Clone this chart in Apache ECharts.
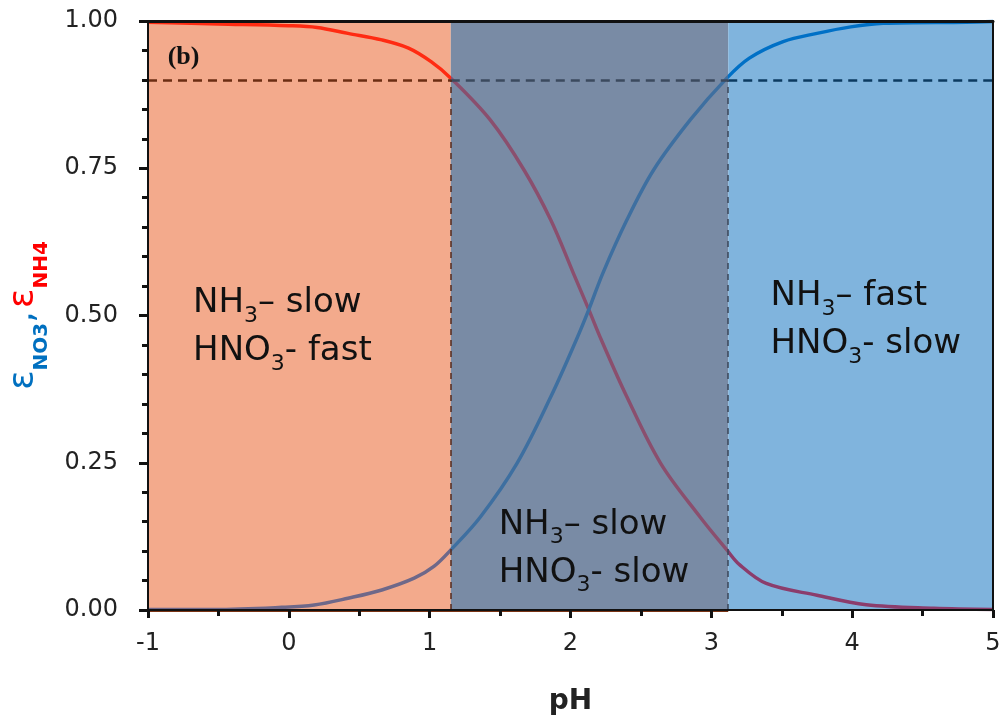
<!DOCTYPE html>
<html>
<head>
<meta charset="utf-8">
<script src="https://cdn.jsdelivr.net/npm/echarts@6/dist/echarts.min.js"></script>
<style>
html, body { margin: 0; padding: 0; background: #fff; }
#chart { width: 1006px; height: 723px; }
</style>
</head>
<body>
<div id="chart"></div>
<script>
// NH4 曲线 (红)
const phNH4 = [-1, -0.5, 0, 0.2, 0.42, 0.66, 0.85, 1.01, 1.15, 1.43, 1.67, 1.86, 2.02, 2.13, 2.22, 2.4, 2.64, 2.92, 3.11, 3.2, 3.39, 3.75, 4.1, 4.58, 5];
const epsNH4 = [0.998, 0.995, 0.992, 0.989, 0.979, 0.968, 0.954, 0.931, 0.903, 0.832, 0.747, 0.662, 0.572, 0.51, 0.458, 0.362, 0.249, 0.158, 0.102, 0.077, 0.045, 0.025, 0.009, 0.003, 0.001];
// NO3 曲线 (蓝)
const phNO3 = [-1, -0.53, -0.05, 0.18, 0.42, 0.66, 0.89, 1.03, 1.15, 1.36, 1.62, 1.86, 2.04, 2.13, 2.23, 2.4, 2.59, 2.85, 3.11, 3.27, 3.51, 3.75, 3.99, 4.22, 4.81, 5];
const epsNO3 = [0.001, 0.001, 0.0045, 0.0085, 0.02, 0.034, 0.054, 0.074, 0.102, 0.158, 0.249, 0.362, 0.458, 0.51, 0.572, 0.662, 0.747, 0.832, 0.903, 0.937, 0.965, 0.979, 0.99, 0.996, 0.998, 0.999];
// 区域分界 和 0.9 阈值
const regionBounds = [-1, 1.15, 3.12, 5];
const threshold = 0.9;
// 区域文字
const regionText = [
    ['NH', '3', '– slow', 'HNO', '3', '- fast'],
    ['NH', '3', '– slow', 'HNO', '3', '- slow'],
    ['NH', '3', '– fast', 'HNO', '3', '- slow']
];
const panelTag = '(b)';

const regionColors = ['#f3aa8c', '#798ba5', '#80b4dd'];
const redColors = ['#ff2b12', '#8a4f6e', '#8b3d6c'];
const blueColors = ['#6e6889', '#3e6fa0', '#0070c6'];
const dashColors = ['#6b2d12', '#3b4a5e', '#0b3a60'];

const FONT = 'DejaVu Sans';

function pieces(colors) {
    return colors.map((c, i) => ({gte: regionBounds[i], lt: regionBounds[i + 1] + (i === 2 ? 1 : 0), color: c}));
}

function labelText(t) {
    return '{t|' + t[0] + '}{s|' + t[1] + '}{t|' + t[2] + '}\n{t|' + t[3] + '}{s|' + t[4] + '}{t|' + t[5] + '}';
}

const chart = echarts.init(document.getElementById('chart'));

const option = {
    animation: false,
    grid: {left: 148, right: 13, top: 21, bottom: 113, outerBoundsMode: 'none'},
    xAxis: [{
        type: 'value', min: -1, max: 5, interval: 1, z: 10,
        name: 'pH', nameLocation: 'middle', nameGap: 78,
        nameTextStyle: {fontFamily: FONT, fontWeight: 'bold', fontSize: 28, color: '#222'},
        axisLine: {onZero: false, lineStyle: {color: '#111', width: 2}},
        axisTick: {length: 8, lineStyle: {color: '#111', width: 3}},
        minorTick: {show: true, splitNumber: 2, length: 6, lineStyle: {color: '#111', width: 3}},
        axisLabel: {margin: 22, fontFamily: FONT, fontSize: 24, color: '#222'},
        splitLine: {show: false}
    }, {
        type: 'value', min: -1, max: 5, position: 'top', z: 10,
        axisLine: {onZero: false, lineStyle: {color: '#111', width: 3}},
        axisTick: {show: false}, axisLabel: {show: false}, splitLine: {show: false}
    }],
    yAxis: [{
        type: 'value', min: 0, max: 1, interval: 0.25, z: 10,
        name: '{b|ε}{bs|NO3}{b|,} {r|ε}{rs|NH4}',
        nameLocation: 'middle', nameGap: 96, nameRotate: 90,
        nameTextStyle: {
            rich: {
                b: {color: '#0070c0', fontSize: 36, fontFamily: 'DejaVu Sans', verticalAlign: 'top', lineHeight: 36},
                bs: {color: '#0070c0', fontSize: 20, fontWeight: 'bold', fontFamily: FONT, verticalAlign: 'bottom', lineHeight: 46},
                r: {color: '#ff0000', fontSize: 36, fontFamily: 'DejaVu Sans', verticalAlign: 'top', lineHeight: 36},
                rs: {color: '#ff0000', fontSize: 20, fontWeight: 'bold', fontFamily: FONT, verticalAlign: 'bottom', lineHeight: 46}
            }
        },
        axisLine: {onZero: false, lineStyle: {color: '#111', width: 2}},
        axisTick: {length: 9, lineStyle: {color: '#111', width: 3}},
        minorTick: {show: true, splitNumber: 5, length: 6, lineStyle: {color: '#111', width: 3}},
        axisLabel: {margin: 30, fontFamily: FONT, fontSize: 24, color: '#222', formatter: v => v.toFixed(2)},
        splitLine: {show: false}
    }, {
        type: 'value', min: 0, max: 1, position: 'right', z: 10,
        axisLine: {onZero: false, lineStyle: {color: '#111', width: 2}},
        axisTick: {show: false}, axisLabel: {show: false}, splitLine: {show: false}
    }],
    visualMap: [
        {type: 'piecewise', show: false, dimension: 0, seriesIndex: 1, pieces: pieces(redColors)},
        {type: 'piecewise', show: false, dimension: 0, seriesIndex: 2, pieces: pieces(blueColors)}
    ],
    series: [
        {
            // 背景区域
            type: 'line', z: 1, data: [], silent: true,
            markArea: {
                silent: true,
                data: regionColors.map((c, i) => [
                    {xAxis: regionBounds[i], yAxis: 0, itemStyle: {color: c}},
                    {xAxis: regionBounds[i + 1], yAxis: 1}
                ])
            }
        },
        {
            name: 'NH4', type: 'line', z: 3, smooth: 0.35, symbol: 'none',
            lineStyle: {width: 3.5},
            data: phNH4.map((x, i) => [x, epsNH4[i]])
        },
        {
            name: 'NO3', type: 'line', z: 3, smooth: 0.35, symbol: 'none',
            lineStyle: {width: 3.5},
            data: phNO3.map((x, i) => [x, epsNO3[i]])
        },
        {
            // 虚线 + 文字
            type: 'line', z: 4, data: [], silent: true,
            markLine: {
                silent: true, symbol: 'none', label: {show: false},
                data: [
                    ...dashColors.map((c, i) => [
                        {coord: [regionBounds[i], threshold], lineStyle: {color: c, type: [9, 6], width: 2.5}},
                        {coord: [regionBounds[i + 1], threshold]}
                    ]),
                    [{coord: [regionBounds[1], 0], lineStyle: {color: '#5a2a1a', type: [6, 5], width: 1.5}}, {coord: [regionBounds[1], threshold]}],
                    [{coord: [regionBounds[2], 0], lineStyle: {color: '#3a4558', type: [6, 5], width: 1.5}}, {coord: [regionBounds[2], threshold]}],
                    [{coord: [regionBounds[0], 0], lineStyle: {color: '#7a3414', type: 'solid', width: 3}}, {coord: [regionBounds[2], 0]}]
                ]
            },
            markPoint: {
                silent: true, symbol: 'circle', symbolSize: 0,
                label: {
                    show: true, position: 'right', distance: 0, align: 'left',
                    rich: {
                        t: {fontFamily: FONT, fontSize: 34, color: '#111', lineHeight: 48, verticalAlign: 'middle'},
                        s: {fontFamily: FONT, fontSize: 22, color: '#111', lineHeight: 48, verticalAlign: 'bottom'}
                    }
                },
                data: [
                    {coord: [-0.68, 0.48], label: {formatter: labelText(regionText[0])}},
                    {coord: [1.49, 0.104], label: {formatter: labelText(regionText[1])}},
                    {coord: [3.42, 0.492], label: {formatter: labelText(regionText[2])}},
                    {coord: [-0.86, 0.939], label: {formatter: panelTag, fontFamily: 'Liberation Serif', fontWeight: 'bold', fontSize: 26, color: '#111'}}
                ]
            }
        }
    ]
};
chart.setOption(option);
</script>
</body>
</html>
